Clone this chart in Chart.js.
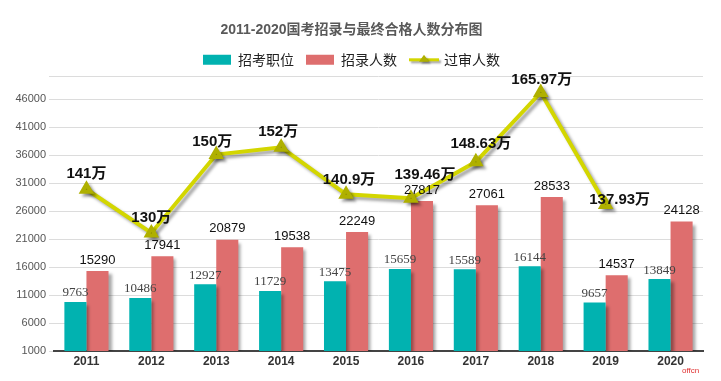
<!DOCTYPE html>
<html><head><meta charset="utf-8">
<script src="https://cdn.jsdelivr.net/npm/chart.js@4.4.1/dist/chart.umd.min.js"></script>
<style>html,body{margin:0;padding:0;background:#fff}#wrap{width:721px;height:381px}</style>
</head><body><div id="wrap"><canvas id="c" width="721" height="381"></canvas></div>
<script>
// ---- data ----
const years = ['2011','2012','2013','2014','2015','2016','2017','2018','2019','2020'];
const positions = [9763,10486,12927,11729,13475,15659,15589,16144,9657,13849];      // 招考职位
const hires = [15290,17941,20879,19538,22249,27817,27061,28533,14537,24128];        // 招录人数
const applicantsPlot = [29900,22100,36100,37400,29000,28300,34800,47200,27200,null]; // 过审人数 (plotted height)
const applicantLabels = ['141万','130万','150万','152万','140.9万','139.46万','148.63万','165.97万','137.93万',''];
const seriesNames = ['招考职位','招录人数','过审人数'];
const titleText = '2011-2020国考招录与最终合格人数分布图';
const yTickValues = [1000,6000,11000,16000,21000,26000,31000,36000,41000,46000];
const yMin = 1000, yMax = 50000;

// ---- styling ----
const TEAL = '#01B2B0', RED = '#DE6E6E', YEL = '#D3D600', YEL_DARK = '#AFB000';
const labelShift = [[0,0],[0,0],[-4,2],[-3,0],[3,1],[14,-8],[5,-3],[1,2],[14,10],[0,0]];

const shadowPlugin = {
  id: 'shadow',
  beforeLayout(chart) {
    const lg = chart.legend;
    if (lg && !lg._patched) {
      lg._patched = true;
      lg.afterFit = function () { this.height += 6.2; };
    }
  },
  beforeDatasetDraw(chart) {
    const ctx = chart.ctx; ctx.save();
    ctx.shadowColor = 'rgba(0,0,0,0.35)'; ctx.shadowOffsetX = 3; ctx.shadowOffsetY = 3; ctx.shadowBlur = 3;
  },
  afterDatasetDraw(chart) { chart.ctx.restore(); }
};

const labelPlugin = {
  id: 'labels',
  afterDatasetsDraw(chart) {
    const ctx = chart.ctx;
    ctx.save();
    ctx.textAlign = 'center'; ctx.textBaseline = 'middle';
    const m0 = chart.getDatasetMeta(0), m1 = chart.getDatasetMeta(1), m2 = chart.getDatasetMeta(2);
    ctx.font = '13px "Liberation Serif"'; ctx.fillStyle = '#444';
    m0.data.forEach((el, i) => ctx.fillText(String(positions[i]), el.x, el.y - 9));
    ctx.font = '13px "Liberation Sans"'; ctx.fillStyle = '#111';
    m1.data.forEach((el, i) => ctx.fillText(String(hires[i]), el.x, el.y - 11));
    ctx.font = 'bold 15px "Liberation Sans", "Noto Sans CJK SC"'; ctx.fillStyle = '#111';
    m2.data.forEach((el, i) => {
      if (applicantsPlot[i] == null) return;
      const s = labelShift[i];
      ctx.fillText(applicantLabels[i], el.x + s[0], el.y - 15 + s[1]);
    });
    ctx.restore();
  },
  afterDraw(chart) {
    const ctx = chart.ctx;
    const hb = chart.legend && chart.legend.legendHitBoxes && chart.legend.legendHitBoxes[2];
    if (hb) {
      const cy = hb.top + hb.height / 2, x0 = hb.left, x1 = hb.left + 30;
      ctx.save();
      ctx.shadowColor = 'rgba(0,0,0,0.35)'; ctx.shadowOffsetX = 2; ctx.shadowOffsetY = 2; ctx.shadowBlur = 2;
      ctx.strokeStyle = YEL; ctx.lineWidth = 3;
      ctx.beginPath(); ctx.moveTo(x0, cy); ctx.lineTo(x1, cy); ctx.stroke();
      ctx.fillStyle = YEL_DARK;
      ctx.beginPath(); ctx.moveTo((x0+x1)/2, cy - 5); ctx.lineTo((x0+x1)/2 + 5, cy + 2); ctx.lineTo((x0+x1)/2 - 5, cy + 2); ctx.closePath(); ctx.fill();
      ctx.restore();
    }
    ctx.save();
    ctx.font = '8px "Liberation Sans"'; ctx.fillStyle = '#E03030'; ctx.textAlign = 'left'; ctx.textBaseline = 'middle';
    ctx.fillText('offcn', 682, 371);
    ctx.restore();
  }
};

new Chart(document.getElementById('c'), {
  type: 'bar',
  data: {
    labels: years,
    datasets: [
      { label: seriesNames[0], data: positions, backgroundColor: TEAL, order: 1,
        categoryPercentage: 0.68, barPercentage: 1.0 },
      { label: seriesNames[1], data: hires, backgroundColor: RED, order: 1,
        categoryPercentage: 0.68, barPercentage: 1.0 },
      { label: seriesNames[2], type: 'line', data: applicantsPlot, order: 0,
        borderColor: YEL, backgroundColor: YEL, borderWidth: 4, tension: 0,
        pointStyle: 'triangle', pointRadius: 5, pointBackgroundColor: YEL_DARK, pointBorderColor: YEL_DARK,
        spanGaps: false }
    ]
  },
  options: {
    responsive: false, animation: false,
    layout: { padding: { left: 0, right: 18, top: 0, bottom: 9.6 } },
    plugins: {
      title: { display: true, text: titleText, color: '#595959',
        font: { size: 14, weight: 'bold', family: '"Liberation Sans", "Noto Sans CJK SC"' },
        padding: { top: 22, bottom: 2 } },
      legend: { display: true, position: 'top',
        labels: { boxWidth: 28, boxHeight: 10, padding: 12, color: '#222',
          font: { size: 14, family: '"Noto Sans CJK SC"' },
          sort: (a, b) => a.datasetIndex - b.datasetIndex,
          generateLabels(chart) {
            const items = Chart.defaults.plugins.legend.labels.generateLabels(chart);
            items.forEach(it => {
              it.lineWidth = 0; it.strokeStyle = 'rgba(0,0,0,0)';
              if (it.datasetIndex === 2) { it.fillStyle = 'rgba(0,0,0,0)'; }
            });
            return items;
          } } },
      tooltip: { enabled: false }
    },
    scales: {
      x: { grid: { display: false, drawTicks: false, tickLength: 0 }, border: { color: '#444', width: 2 },
        ticks: { color: '#333', padding: 3, font: { size: 12, weight: 'bold', family: '"Liberation Sans"' } } },
      y: { min: yMin, max: yMax,
        afterFit(ax) { ax.width = 54; },
        afterBuildTicks(ax) { ax.ticks = yTickValues.concat([yMax]).map(v => ({ value: v })); },
        grid: { color: '#DCDCDC', tickLength: 5 }, border: { display: false },
        ticks: { color: '#555', padding: 3, font: { size: 11, family: '"Liberation Sans"' },
          callback: v => (v === yMax ? '' : String(v)) } }
    }
  },
  plugins: [shadowPlugin, labelPlugin]
});
</script></body></html>
